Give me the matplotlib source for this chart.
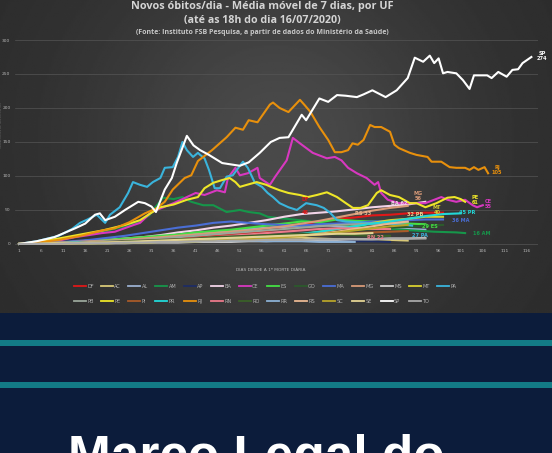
import numpy as np
import matplotlib.pyplot as plt
from matplotlib.lines import Line2D

# ---------------- data ----------------
grid = [1, 5, 9, 13, 17, 21, 25, 29, 33, 37, 41, 45, 49, 53, 57, 61, 65, 69,
        73, 77, 81, 85, 89, 93, 97, 101, 105, 109, 113, 117]

sp_days = [1, 5, 9, 13.7, 16, 18.2, 19.3, 20.5, 22.7, 25, 28, 29.5, 31, 32, 34,
           35.6, 36.7, 39, 40.5, 42, 44, 47, 51, 53, 55.5, 58, 60, 62, 63, 65,
           66, 69, 71, 73, 75, 77.5, 79, 81, 84, 86.5, 89, 90.6, 92.5, 94, 95,
           96, 97, 98, 100, 101.5, 103, 104, 107, 108, 109.5, 111.4, 112.7, 114, 115, 117]
sp_vals = [0, 4, 10, 23, 30, 43, 45, 35, 40, 50, 62, 60, 55, 47, 80,
           97, 119, 159, 145, 138, 131, 119, 115, 120, 134, 150, 156, 157, 168, 190,
           182, 214, 209, 219, 218, 216, 220, 226, 216, 226, 244, 274, 268, 277, 266,
           273, 251, 253, 251, 241, 228, 248, 248, 244, 253, 246, 256, 257, 266, 275]

rj_days = [1, 5, 10, 15, 20, 22.7, 26, 29.5, 32, 34, 35.8, 38.5, 40, 41.5, 44.7,
           48, 50, 51.7, 53, 55, 57.8, 58.5, 60, 62, 64.6, 65.7, 67, 69, 71, 72.5,
           74, 75.5, 76.5, 77.7, 79, 80.5, 81.5, 83, 85, 86, 87, 89.5, 91, 93.5, 94.4,
           96.6, 98.5, 100, 102, 103, 104, 105, 106.4, 107.2]
rj_vals = [0, 2, 6, 12, 20, 23, 32, 45, 52, 62, 80, 97, 101, 122, 138,
           157, 171, 168, 182, 179, 205, 208, 200, 194, 212, 204, 194, 172, 153, 135,
           135, 138, 148, 146, 153, 175, 172, 172, 165, 146, 141, 134, 131, 128, 121,
           121, 113, 112, 112, 109, 113, 109, 113, 104]

ce_days = [1, 5, 10, 13.7, 19.8, 22.7, 27, 28.4, 31, 36, 41, 43, 45.8, 47.6, 48.3,
           50, 51, 52.8, 55, 55.5, 57.8, 59, 61.6, 63, 64.6, 67.5, 70.7, 72.5, 74, 75.5,
           77.5, 79.7, 81.5, 82.3, 83, 84.5, 87, 89, 93, 95, 96.6, 98, 100, 102, 103.7,
           104.7, 106]
ce_vals = [0, 2, 5, 10, 16, 18, 28, 31, 47, 60, 75, 72, 79, 76, 97,
           112, 101, 104, 112, 97, 87, 99, 123, 156, 148, 134, 126, 128, 123, 112,
           104, 97, 87, 91, 75, 65, 60, 60, 60, 65, 69, 65, 62, 65, 57,
           54, 57]

pe_days = [1, 5, 10, 15, 20, 25, 28.4, 30.5, 33, 36, 39, 41.5, 43, 45, 47,
           48.7, 50, 51, 52.6, 54.8, 57, 58, 60, 62, 64.6, 66.4, 68.4, 70.7, 73, 75,
           76.6, 78.3, 80, 82, 83, 85, 87, 89.5, 91, 93, 95.5, 98, 99.6, 101, 102]
pe_vals = [0, 3, 8, 14, 20, 28, 35, 44, 54, 58, 65, 69, 82, 90, 94,
           97, 91, 84, 87, 91, 87, 84, 79, 75, 72, 69, 72, 76, 69, 60,
           53, 53, 57, 75, 79, 72, 69, 60, 60, 54, 60, 68, 69, 66, 62]

pa_days = [1, 5, 10, 13, 14.8, 16.5, 18.6, 20.5, 21.6, 23.8, 25.7, 26.8, 28.4, 30, 31.3,
           33, 34, 35.8, 37, 38, 39, 40.4, 41.5, 42, 43, 44, 45.3, 46.5, 48, 49.4,
           51.7, 52.8, 54.4, 56, 57.3, 58.5, 60, 62, 63.9, 66, 68.4, 70, 71.4, 73, 75,
           78, 81, 84, 87, 90]
pa_vals = [0, 4, 12, 22, 31, 36, 43, 31, 43, 54, 75, 91, 87, 84, 91,
           97, 112, 113, 128, 150, 138, 128, 134, 131, 126, 109, 82, 82, 99, 101,
           121, 112, 90, 84, 75, 69, 60, 54, 50, 60, 57, 53, 46, 35, 33,
           32, 30, 30, 29, 27]

am_days = [1, 5, 10, 15, 20, 25, 28, 30.5, 32, 33.6, 36, 38, 40, 42.7, 45,
           48, 51, 53, 55.5, 57.3, 60, 63, 66, 70, 75, 80, 85, 90, 95, 100, 102]
am_vals = [0, 2, 6, 12, 18, 26, 32, 42, 55, 68, 66, 69, 62, 57, 57,
           47, 50, 47, 45, 40, 38, 36, 34, 30, 28, 25, 22, 20, 18, 17, 16]

# smaller states, sampled every 4 days (values follow `grid`)
df_vals = [0, 1, 1, 2, 3, 4, 5, 6, 8, 9, 11, 12, 15, 17, 19, 23, 28, 33, 37, 39, 42, 43, 45, 46, 46]
ac_vals = [0, 0, 1, 1, 1, 2, 2, 3, 3, 4, 5, 6, 7, 8, 8, 9, 9, 8, 7, 7, 6, 6, 5]
al_vals = [0, 1, 1, 2, 3, 4, 6, 8, 10, 12, 15, 17, 19, 22, 24, 25, 27, 28, 26, 25, 24, 23, 22, 21]
ap_vals = [0, 0, 1, 1, 2, 2, 3, 3, 4, 5, 6, 7, 8, 8, 7, 6, 6, 5, 5, 4, 4, 3]
ba_vals = [0, 1, 2, 3, 5, 6, 8, 10, 13, 17, 20, 24, 27, 31, 35, 40, 44, 46, 48, 51, 54, 56, 58, 62]
es_vals = [0, 1, 2, 3, 5, 6, 8, 10, 12, 14, 17, 19, 21, 24, 27, 30, 33, 32, 36, 34, 33, 31, 30, 29]
go_vals = [0, 0, 1, 1, 2, 2, 3, 3, 4, 5, 6, 7, 8, 9, 10, 12, 14, 16, 18, 20, 22, 24, 25, 27, 28]
ma_vals = [0, 1, 2, 4, 6, 9, 12, 16, 20, 24, 27, 31, 33, 31, 29, 28, 27, 29, 30, 31, 33, 34, 35, 36, 36]
mg_vals = [0, 1, 2, 3, 4, 5, 6, 8, 10, 12, 14, 16, 18, 20, 23, 26, 30, 34, 39, 44, 49, 53, 56]
ms_vals = [0, 0, 0, 1, 1, 1, 1, 2, 2, 2, 3, 3, 3, 4, 4, 5, 5, 6, 6, 7, 7, 8, 8, 9]
mt_vals = [0, 0, 0, 1, 1, 1, 2, 2, 3, 3, 4, 5, 6, 7, 9, 11, 14, 18, 22, 26, 31, 35, 37, 40, 40]
pb_vals = [0, 1, 1, 2, 3, 4, 5, 6, 8, 10, 12, 14, 16, 18, 20, 22, 24, 26, 28, 29, 30, 31, 32]
pi_vals = [0, 0, 1, 1, 2, 2, 3, 4, 5, 6, 7, 8, 9, 10, 11, 12, 13, 14, 15, 16, 17, 18, 19]
pr_vals = [0, 1, 1, 2, 2, 3, 3, 4, 4, 5, 6, 7, 8, 9, 11, 13, 15, 18, 22, 26, 30, 33, 37, 41, 44, 45]
rn_vals = [0, 0, 1, 1, 2, 3, 4, 5, 6, 7, 8, 10, 12, 14, 16, 18, 20, 22, 23, 23, 22, 22]
ro_vals = [0, 0, 1, 1, 2, 3, 4, 5, 6, 7, 8, 10, 11, 12, 13, 14, 15, 15, 14, 13, 12, 12]
rr_vals = [0, 0, 1, 1, 1, 2, 2, 3, 3, 4, 4, 5, 5, 5, 4, 4, 4, 3, 3, 3]
rs_vals = [0, 0, 1, 1, 2, 2, 3, 3, 4, 4, 5, 5, 6, 7, 8, 10, 12, 15, 18, 22, 26, 30, 33]
sc_vals = [0, 0, 1, 1, 1, 2, 2, 3, 3, 4, 4, 5, 6, 7, 8, 10, 12, 14, 17, 20, 23, 26, 28]
se_vals = [0, 0, 1, 1, 2, 2, 3, 4, 5, 6, 7, 8, 9, 10, 11, 12, 13, 14, 15, 15, 16]
to_vals = [0, 0, 0, 1, 1, 1, 2, 2, 3, 3, 4, 4, 5, 5, 6, 6, 6, 7, 7, 7, 7, 8, 8, 8]

xticks = [1, 6, 11, 16, 21, 26, 31, 36, 41, 46, 51, 56, 61, 66, 71, 76, 81, 86,
          91, 96, 101, 106, 111, 116]
yticks = [0, 50, 100, 150, 200, 250, 300]

colors = {
    "DF": "#e01818", "AC": "#d8c878", "AL": "#9ab0d0", "AM": "#16964a",
    "AP": "#1e2c64", "BA": "#f2d4e8", "CE": "#d838c0", "ES": "#44e044",
    "GO": "#2c5a2c", "MA": "#4a6ed6", "MG": "#d89a78", "MS": "#cccccc",
    "MT": "#d8d030", "PA": "#3ab4dc", "PB": "#9aa69a", "PE": "#eee628",
    "PI": "#a85a28", "PR": "#22d8d8", "RJ": "#e8900c", "RN": "#ec7a8a",
    "RO": "#3a6028", "RR": "#8cb0d4", "RS": "#eab892", "SC": "#b8a42a",
    "SE": "#e4d494", "SP": "#ffffff", "TO": "#a8a8a8",
}

series = [
    ("DF", grid, df_vals), ("AC", grid, ac_vals), ("AL", grid, al_vals),
    ("AM", am_days, am_vals), ("AP", grid, ap_vals), ("BA", grid, ba_vals),
    ("CE", ce_days, ce_vals), ("ES", grid, es_vals), ("GO", grid, go_vals),
    ("MA", grid, ma_vals), ("MG", grid, mg_vals), ("MS", grid, ms_vals),
    ("MT", grid, mt_vals), ("PA", pa_days, pa_vals), ("PB", grid, pb_vals),
    ("PE", pe_days, pe_vals), ("PI", grid, pi_vals), ("PR", grid, pr_vals),
    ("RJ", rj_days, rj_vals), ("RN", grid, rn_vals), ("RO", grid, ro_vals),
    ("RR", grid, rr_vals), ("RS", grid, rs_vals), ("SC", grid, sc_vals),
    ("SE", grid, se_vals), ("SP", sp_days, sp_vals), ("TO", grid, to_vals),
]

# ---------------- figure ----------------
W, H = 552, 453
fig = plt.figure(figsize=(W / 100, H / 100), dpi=100)
fig.patch.set_facecolor("#0c1c3b")

# dark slide-like gradient behind the chart
bg = fig.add_axes([0, 140 / H, 1, 313 / H])
gx, gy = np.meshgrid(np.linspace(0, 1, 300), np.linspace(0, 1, 200))
shade = 0.17 + 0.12 * np.exp(-((gx - 0.5) ** 2 / 0.12 + (gy - 0.45) ** 2 / 0.35))
bg.imshow(shade, cmap="gray", vmin=0, vmax=1, aspect="auto", extent=[0, 1, 0, 1])
bg.axis("off")

# bottom banner
bot = fig.add_axes([0, 0, 1, 140 / H])
bot.set_xlim(0, 1)
bot.set_ylim(0, 140)
bot.axhspan(107, 113, color="#137b86", lw=0)
bot.axhspan(65, 71, color="#137b86", lw=0)
bot.axis("off")
# the headline runs off the bottom of the slide, as in the source
fig.text(68 / W, 1 - 472 / H, "Marco Legal do", color="white", fontsize=37,
         fontweight="bold", family="Liberation Sans", ha="left", va="baseline")

# chart axes
ax = fig.add_axes([14.6 / W, 1 - 246 / H, (538 - 14.6) / W, (246 - 40) / H])
ax.set_facecolor("none")
ax.set_xlim(0, 118.5)
ax.set_ylim(-3, 300)
ax.set_xticks(xticks)
ax.set_yticks(yticks)
ax.tick_params(length=0, labelsize=3.2, labelcolor="#b8b8b8", pad=2)
ax.tick_params(axis="y", pad=3)
for s in ax.spines.values():
    s.set_visible(False)
ax.yaxis.grid(True, color="#555555", lw=0.5)
ax.set_axisbelow(True)

for uf, d, v in series:
    n = len(v)
    ax.plot(d[:n], v, color=colors[uf], lw=1.5, solid_joinstyle="round")

end_labels = [
    ("SP\n274", 119.4, 277, "SP"), ("RJ\n105", 109.2, 109, "RJ"),
    ("PE\n61", 104.2, 65, "PE"), ("CE\n55", 107.2, 59, "CE"),
    ("MG\n56", 91.3, 70, "MG"), ("MT\n40", 95.6, 50, "MT"),
    ("32 PB", 90.8, 43, "SE"), ("45 PR", 102.5, 46, "PR"),
    ("36 MA", 101, 35, "MA"), ("29 ES", 94, 25, "ES"),
    ("16 AM", 105.8, 16, "AM"), ("27 PA", 91.7, 13, "PA"),
    ("RN 22", 81.8, 10, "RN"), ("RS 33", 79, 45, "RS"),
    ("BA 62", 87, 60, "BA"), ("DF", 65.7, 65, "DF"), ("46", 65.7, 47, "DF"),
]
for txt, dx, dy, c in end_labels:
    ax.text(dx, dy, txt, color=colors[c], fontsize=3.6, fontweight="bold",
            ha="center", va="center", linespacing=1.0, clip_on=False)

ax.text(0.49, -0.115, "DIAS DESDE A 1ª MORTE DIÁRIA", transform=ax.transAxes,
        fontsize=3.2, color="#b8b8b8", ha="center", va="center")
fig.text(1.4 / W, 1 - 125 / H, "MÉDIA MÓVEL DE NOVOS ÓBITOS", rotation=90,
         fontsize=2.0, color="#6a6a6a", ha="center", va="center")

# titles
fig.text(262 / W, 1 - 7 / H, "Novos óbitos/dia - Média móvel de 7 dias, por UF",
         color="#d4d4d4", fontsize=7.8, fontweight="bold", family="Open Sans",
         ha="center", va="center")
fig.text(262 / W, 1 - 20 / H, "(até as 18h do dia 16/07/2020)",
         color="#d4d4d4", fontsize=7.7, fontweight="bold", family="Open Sans",
         ha="center", va="center")
fig.text(262 / W, 1 - 32.5 / H,
         "(Fonte: Instituto FSB Pesquisa, a partir de dados do Ministério da Saúde)",
         color="#c8c8c8", fontsize=5.0, fontweight="bold", family="Open Sans",
         ha="center", va="center")

# legend: first 14 states on the first row, the rest on the second
order = [uf for uf, _, _ in series]
row1, row2 = order[:14], order[14:]
leg_order = []
for i in range(14):
    leg_order.append(row1[i])
    if i < len(row2):
        leg_order.append(row2[i])
leg_handles = [Line2D([], [], color=colors[u], lw=1.3) for u in leg_order]
fig.legend(leg_handles, leg_order, ncol=14, loc="upper left",
           bbox_to_anchor=(71 / W, 1 - 281 / H), frameon=False, fontsize=3.6,
           handlelength=2.4, handletextpad=0.3, columnspacing=1.45,
           labelspacing=2.1, borderpad=0, labelcolor="#b0b0b0")

fig.savefig("out.png", dpi=100, facecolor=fig.get_facecolor())
